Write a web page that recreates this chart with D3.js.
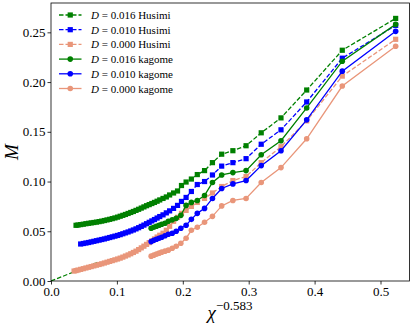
<!DOCTYPE html>
<html>
<head>
<meta charset="utf-8">
<script src="https://cdn.jsdelivr.net/npm/d3@7"></script>
<style>
    body { margin: 0; background: #fff; }
    svg text { font-family: "Liberation Serif", "DejaVu Serif", serif; fill: #000; }
    .axis path, .axis line { stroke: #000; stroke-width: 0.8; }
</style>
</head>
<body>
<div id="graphDiv"></div>
<script>
// ---- data ----
var husimiX = [0.035, 0.038, 0.041, 0.045, 0.049, 0.053, 0.057, 0.061, 0.065, 0.069,
    0.073, 0.077, 0.081, 0.085, 0.089, 0.093, 0.097, 0.101, 0.105, 0.109,
    0.113, 0.117, 0.121, 0.125, 0.129, 0.133, 0.137, 0.141, 0.145, 0.149,
    0.153, 0.157, 0.161, 0.165, 0.170, 0.175, 0.180, 0.186, 0.192, 0.198,
    0.205, 0.213, 0.222, 0.233, 0.245, 0.259, 0.276, 0.296, 0.319, 0.349,
    0.388, 0.442, 0.523];

var husimi016 = [null, 0.0560, 0.0563, 0.0567, 0.0571, 0.0576, 0.0580, 0.0584, 0.0588, 0.0592,
    0.0597, 0.0602, 0.0608, 0.0614, 0.0620, 0.0627, 0.0634, 0.0642, 0.0651, 0.0660,
    0.0669, 0.0679, 0.0689, 0.0699, 0.0710, 0.0721, 0.0733, 0.0745, 0.0757, 0.0768,
    0.0779, 0.0790, 0.0802, 0.0815, 0.0830, 0.0845, 0.0865, 0.0885, 0.0905, 0.0960,
    0.0995, 0.1025, 0.1070, 0.1110, 0.1190, 0.1275, 0.1310, 0.1360, 0.1490, 0.1640,
    0.1920, 0.2320, 0.2640];

var husimi010 = [null, null, null, 0.0372, 0.0377, 0.0382, 0.0387, 0.0393, 0.0399, 0.0405,
    0.0411, 0.0417, 0.0423, 0.0430, 0.0437, 0.0444, 0.0451, 0.0458, 0.0466, 0.0475,
    0.0484, 0.0493, 0.0503, 0.0513, 0.0524, 0.0536, 0.0549, 0.0562, 0.0576, 0.0590,
    0.0604, 0.0618, 0.0633, 0.0648, 0.0665, 0.0685, 0.0705, 0.0730, 0.0760, 0.0800,
    0.0840, 0.0900, 0.0970, 0.1000, 0.1066, 0.1155, 0.1190, 0.1230, 0.1375, 0.1520,
    0.1800, 0.2240, 0.2570];

var husimi000 = [0.0100, 0.0105, 0.0110, 0.0117, 0.0124, 0.0131, 0.0138, 0.0145, 0.0152, 0.0159,
    0.0166, 0.0173, 0.0181, 0.0189, 0.0197, 0.0205, 0.0213, 0.0221, 0.0230, 0.0240,
    0.0251, 0.0262, 0.0274, 0.0287, 0.0300, 0.0316, 0.0333, 0.0350, 0.0368, 0.0386,
    0.0404, 0.0423, 0.0442, 0.0460, 0.0480, 0.0510, 0.0550, 0.0600, 0.0640, 0.0680,
    0.0710, 0.0750, 0.0790, 0.0830, 0.0885, 0.0950, 0.1010, 0.1050, 0.1190, 0.1350,
    0.1610, 0.2060, 0.2430];

var kagomeX = [0.152, 0.156, 0.160, 0.164, 0.168, 0.173, 0.178, 0.184, 0.190, 0.197,
    0.205, 0.213, 0.222, 0.233, 0.245, 0.259, 0.276, 0.296, 0.319, 0.349,
    0.388, 0.442, 0.523];

var kagome016 = [0.053, 0.054, 0.055, 0.056, 0.057, 0.058, 0.060, 0.0615, 0.063, 0.066,
    0.076, 0.079, 0.081, 0.086, 0.099, 0.1066, 0.109, 0.111, 0.127, 0.141,
    0.174, 0.221, 0.258];

var kagome010 = [0.0396, 0.041, 0.042, 0.043, 0.044, 0.0455, 0.047, 0.048, 0.050, 0.053,
    0.056, 0.062, 0.068, 0.073, 0.083, 0.093, 0.0976, 0.101, 0.116, 0.131,
    0.162, 0.211, 0.251];

var kagome000 = [0.025, 0.026, 0.027, 0.028, 0.029, 0.030, 0.031, 0.033, 0.035, 0.038,
    0.043, 0.051, 0.054, 0.059, 0.065, 0.0755, 0.081, 0.083, 0.099, 0.114,
    0.143, 0.196, 0.236];

// dashed guide line from the origin
var guideX = [0.0, 0.072];
var guideY = [0.0, 0.019];

var xTicks = [0.0, 0.1, 0.2, 0.3, 0.4, 0.5];
var yTicks = [0.00, 0.05, 0.10, 0.15, 0.20, 0.25];

var series = [
    {D: "0.016", lattice: "Husimi", x: husimiX, y: husimi016, color: "#008000", dashed: true},
    {D: "0.010", lattice: "Husimi", x: husimiX, y: husimi010, color: "#0000ff", dashed: true},
    {D: "0.000", lattice: "Husimi", x: husimiX, y: husimi000, color: "#e9967a", dashed: true},
    {D: "0.016", lattice: "kagome", x: kagomeX, y: kagome016, color: "#008000", dashed: false},
    {D: "0.010", lattice: "kagome", x: kagomeX, y: kagome010, color: "#0000ff", dashed: false},
    {D: "0.000", lattice: "kagome", x: kagomeX, y: kagome000, color: "#e9967a", dashed: false}
];

(function () {
    var W = 415, H = 324;
    var pLeft = 51, pRight = 409.5, pTop = 3, pBottom = 281;
    var dash = "4.5,2";

    var xScale = d3.scaleLinear().domain([0, 0.544]).range([pLeft, pRight]);
    var yScale = d3.scaleLinear().domain([0, 0.2795]).range([pBottom, pTop]);

    var svg = d3.select("#graphDiv").append("svg")
        .attr("width", W)
        .attr("height", H);

    svg.append("defs").append("clipPath").attr("id", "plotClip")
        .append("rect")
        .attr("x", pLeft).attr("y", pTop)
        .attr("width", pRight - pLeft).attr("height", pBottom - pTop);

    var lineFunc = d3.line()
        .x(function (d) { return xScale(d[0]); })
        .y(function (d) { return yScale(d[1]); });

    var plot = svg.append("g").attr("clip-path", "url(#plotClip)");

    // guide line
    plot.append("path")
        .attr("d", lineFunc(d3.zip(guideX, guideY)))
        .attr("fill", "none")
        .attr("stroke", "#008000")
        .attr("stroke-width", 1.2)
        .attr("stroke-dasharray", dash);

    function drawMarker(g, cx, cy, s) {
        if (s.dashed) {
            g.append("rect")
                .attr("x", cx - 2.6).attr("y", cy - 2.6)
                .attr("width", 5.2).attr("height", 5.2)
                .attr("fill", s.color);
        } else {
            g.append("circle")
                .attr("cx", cx).attr("cy", cy).attr("r", 2.8)
                .attr("fill", s.color);
        }
    }

    series.forEach(function (s) {
        var pts = d3.zip(s.x, s.y).filter(function (d) { return d[1] !== null; });
        var g = plot.append("g");
        g.append("path")
            .attr("d", lineFunc(pts))
            .attr("fill", "none")
            .attr("stroke", s.color)
            .attr("stroke-width", 1.3)
            .attr("stroke-dasharray", s.dashed ? dash : null);
        pts.forEach(function (d) {
            drawMarker(g, xScale(d[0]), yScale(d[1]), s);
        });
    });

    // axes
    var xAxis = d3.axisBottom(xScale).tickValues(xTicks).tickFormat(d3.format(".1f"))
        .tickSizeInner(3.5).tickSizeOuter(0).tickPadding(2);
    var yAxis = d3.axisLeft(yScale).tickValues(yTicks).tickFormat(d3.format(".2f"))
        .tickSizeInner(3.5).tickSizeOuter(0).tickPadding(2);

    svg.append("g").attr("class", "x axis")
        .attr("transform", "translate(0," + pBottom + ")")
        .call(xAxis)
        .selectAll("text").style("font-size", "13px");
    svg.append("g").attr("class", "y axis")
        .attr("transform", "translate(" + pLeft + ",0)")
        .call(yAxis)
        .selectAll("text").style("font-size", "13px");

    svg.selectAll(".axis .domain").remove();

    // frame
    svg.append("rect")
        .attr("x", pLeft).attr("y", pTop)
        .attr("width", pRight - pLeft).attr("height", pBottom - pTop)
        .attr("fill", "none")
        .attr("stroke", "#000")
        .attr("stroke-width", 0.8);

    // axis labels
    var xl = svg.append("text")
        .attr("x", 230).attr("y", 319)
        .attr("text-anchor", "middle");
    xl.append("tspan").style("font-style", "italic").style("font-size", "19px").text("\u03c7");
    xl.append("tspan").attr("dy", -9).style("font-size", "13px").text("\u22120.583");

    svg.append("text")
        .attr("transform", "translate(18,152) rotate(-90)")
        .attr("text-anchor", "middle")
        .style("font-style", "italic")
        .style("font-size", "19px")
        .text("M");

    // legend
    var legend = svg.append("g").attr("transform", "translate(59,15)");
    series.forEach(function (s, i) {
        var row = legend.append("g").attr("transform", "translate(0," + (i * 14.7) + ")");
        row.append("line")
            .attr("x1", 0).attr("x2", 22.5).attr("y1", 0).attr("y2", 0)
            .attr("stroke", s.color)
            .attr("stroke-width", 1.3)
            .attr("stroke-dasharray", s.dashed ? dash : null);
        drawMarker(row, 11.25, 0, s);
        var t = row.append("text")
            .attr("x", 32).attr("y", 4)
            .style("font-size", "11px");
        t.append("tspan").style("font-style", "italic").text("D");
        t.append("tspan").text(" = " + s.D + " " + s.lattice);
    });
})();
</script>
</body>
</html>
